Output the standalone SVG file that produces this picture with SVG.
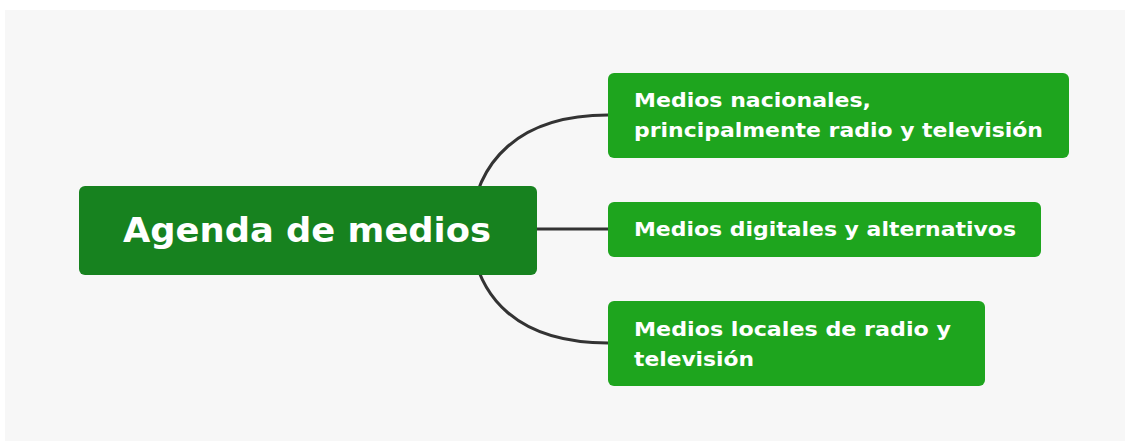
<svg xmlns="http://www.w3.org/2000/svg" width="1125" height="442" viewBox="0 0 1125 442">
<style>
.bg{fill:#f7f7f7}
.root{fill:#17821f}
.child{fill:#1ea51e}
.conn{fill:none;stroke:#333333;stroke-width:3}
.t{font-family:"DejaVu Sans","Liberation Sans",sans-serif;fill:#ffffff;font-weight:700}
.tc{font-size:20px}
.tr{font-size:34px}
</style>
<rect class="bg" x="5" y="10" width="1120" height="431"/>
<g id="connectors">
<path class="conn" d="M470 230 C475 160 520 115 608 115"/>
<path class="conn" d="M470 230 C475 300 520 343 608 343"/>
<path class="conn" d="M537 229 L608 229"/>
</g>
<g id="root">
<rect class="root" x="79" y="186" width="458" height="89" rx="6"/>
<text class="t tr" x="123" y="242" textLength="368" lengthAdjust="spacingAndGlyphs">Agenda de medios</text>
</g>
<g id="n1">
<rect class="child" x="608" y="73" width="461" height="85" rx="6"/>
<text class="t tc" x="634" y="107" textLength="237" lengthAdjust="spacingAndGlyphs">Medios nacionales,</text>
<text class="t tc" x="634" y="137" textLength="409" lengthAdjust="spacingAndGlyphs">principalmente radio y televisión</text>
</g>
<g id="n2">
<rect class="child" x="608" y="202" width="433" height="55" rx="6"/>
<text class="t tc" x="634" y="236" textLength="382" lengthAdjust="spacingAndGlyphs">Medios digitales y alternativos</text>
</g>
<g id="n3">
<rect class="child" x="608" y="301" width="377" height="85" rx="6"/>
<text class="t tc" x="634" y="336" textLength="317" lengthAdjust="spacingAndGlyphs">Medios locales de radio y</text>
<text class="t tc" x="634" y="366" textLength="120" lengthAdjust="spacingAndGlyphs">televisión</text>
</g>
</svg>
